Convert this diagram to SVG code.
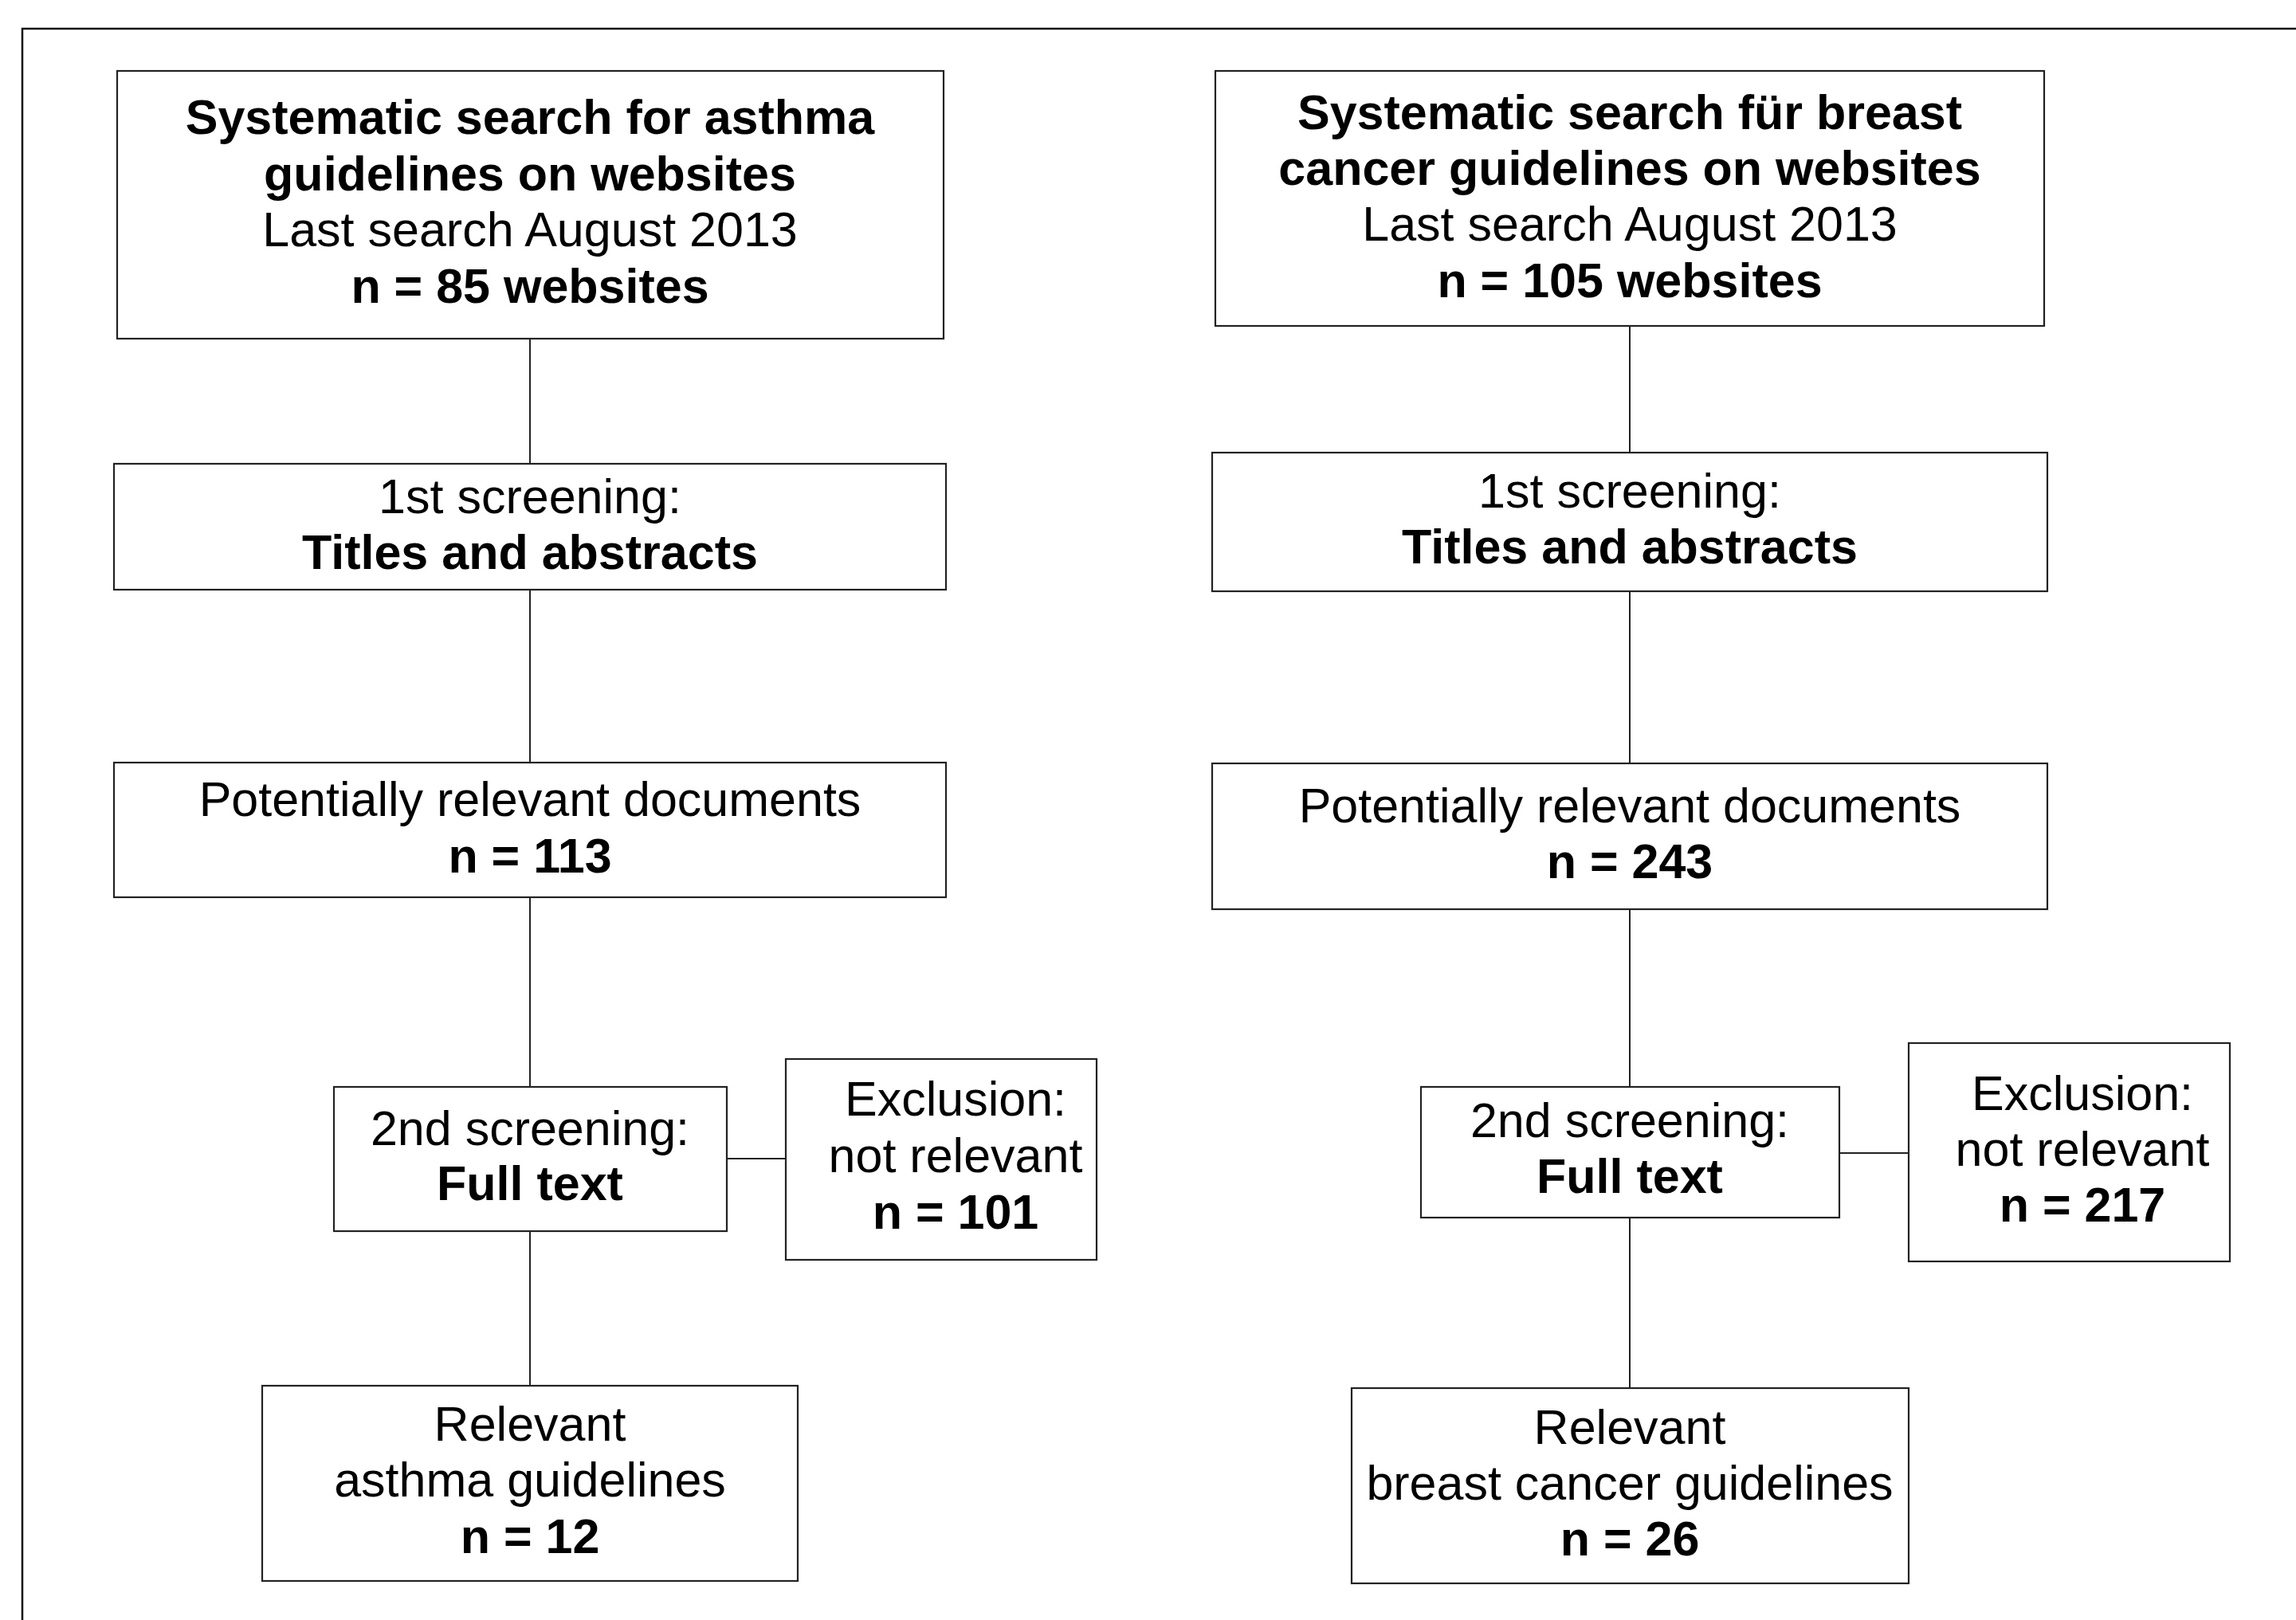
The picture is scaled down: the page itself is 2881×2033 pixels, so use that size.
<svg xmlns="http://www.w3.org/2000/svg" width="2881" height="2033" viewBox="0 0 2881 2033">
<style>
.box{fill:#fff;stroke:#222;stroke-width:2.2}
.conn{stroke:#222;stroke-width:2;fill:none}
.frame{stroke:#111;stroke-width:2.5;fill:none}
text{font-family:"Liberation Sans",Arial,sans-serif;font-size:61px;fill:#000;text-anchor:middle}
.b{font-weight:bold}
</style>
<rect x="0" y="0" width="2881" height="2033" fill="#fff"/>
<path class="frame" d="M28,2040 V36 H2890"/>
<g id="connectors">
<line class="conn" x1="665" y1="425" x2="665" y2="582"/>
<line class="conn" x1="665" y1="740" x2="665" y2="957"/>
<line class="conn" x1="665" y1="1126" x2="665" y2="1364"/>
<line class="conn" x1="665" y1="1545" x2="665" y2="1739"/>
<line class="conn" x1="912" y1="1454" x2="986" y2="1454"/>
<line class="conn" x1="2045" y1="409" x2="2045" y2="568"/>
<line class="conn" x1="2045" y1="742" x2="2045" y2="958"/>
<line class="conn" x1="2045" y1="1141" x2="2045" y2="1364"/>
<line class="conn" x1="2045" y1="1528" x2="2045" y2="1742"/>
<line class="conn" x1="2308" y1="1447" x2="2395" y2="1447"/>
</g>
<g id="asthma-search">
<rect class="box" x="147" y="89" width="1037" height="336"/>
<text x="665" y="168" class="b">Systematic search for asthma</text>
<text x="665" y="239" class="b">guidelines on websites</text>
<text x="665" y="309">Last search August 2013</text>
<text x="665" y="380" class="b">n = 85 websites</text>
</g>
<g id="asthma-screening1">
<rect class="box" x="143" y="582" width="1044" height="158"/>
<text x="665" y="644">1st screening:</text>
<text x="665" y="714" class="b">Titles and abstracts</text>
</g>
<g id="asthma-potential">
<rect class="box" x="143" y="957" width="1044" height="169"/>
<text x="665" y="1024">Potentially relevant documents</text>
<text x="665" y="1095" class="b">n = 113</text>
</g>
<g id="asthma-screening2">
<rect class="box" x="419" y="1364" width="493" height="181"/>
<text x="665" y="1437">2nd screening:</text>
<text x="665" y="1506" class="b">Full text</text>
</g>
<g id="asthma-exclusion">
<rect class="box" x="986" y="1329" width="390" height="252"/>
<text x="1199" y="1400">Exclusion:</text>
<text x="1199" y="1471">not relevant</text>
<text x="1199" y="1542" class="b">n = 101</text>
</g>
<g id="asthma-relevant">
<rect class="box" x="329" y="1739" width="672" height="245"/>
<text x="665" y="1808">Relevant</text>
<text x="665" y="1878">asthma guidelines</text>
<text x="665" y="1949" class="b">n = 12</text>
</g>
<g id="bc-search">
<rect class="box" x="1525" y="89" width="1040" height="320"/>
<text x="2045" y="162" class="b">Systematic search für breast</text>
<text x="2045" y="232" class="b">cancer guidelines on websites</text>
<text x="2045" y="302">Last search August 2013</text>
<text x="2045" y="373" class="b">n = 105 websites</text>
</g>
<g id="bc-screening1">
<rect class="box" x="1521" y="568" width="1048" height="174"/>
<text x="2045" y="637">1st screening:</text>
<text x="2045" y="707" class="b">Titles and abstracts</text>
</g>
<g id="bc-potential">
<rect class="box" x="1521" y="958" width="1048" height="183"/>
<text x="2045" y="1032">Potentially relevant documents</text>
<text x="2045" y="1102" class="b">n = 243</text>
</g>
<g id="bc-screening2">
<rect class="box" x="1783" y="1364" width="525" height="164"/>
<text x="2045" y="1427">2nd screening:</text>
<text x="2045" y="1497" class="b">Full text</text>
</g>
<g id="bc-exclusion">
<rect class="box" x="2395" y="1309" width="403" height="274"/>
<text x="2613" y="1393">Exclusion:</text>
<text x="2613" y="1463">not relevant</text>
<text x="2613" y="1533" class="b">n = 217</text>
</g>
<g id="bc-relevant">
<rect class="box" x="1696" y="1742" width="699" height="245"/>
<text x="2045" y="1812">Relevant</text>
<text x="2045" y="1882">breast cancer guidelines</text>
<text x="2045" y="1952" class="b">n = 26</text>
</g>
</svg>
